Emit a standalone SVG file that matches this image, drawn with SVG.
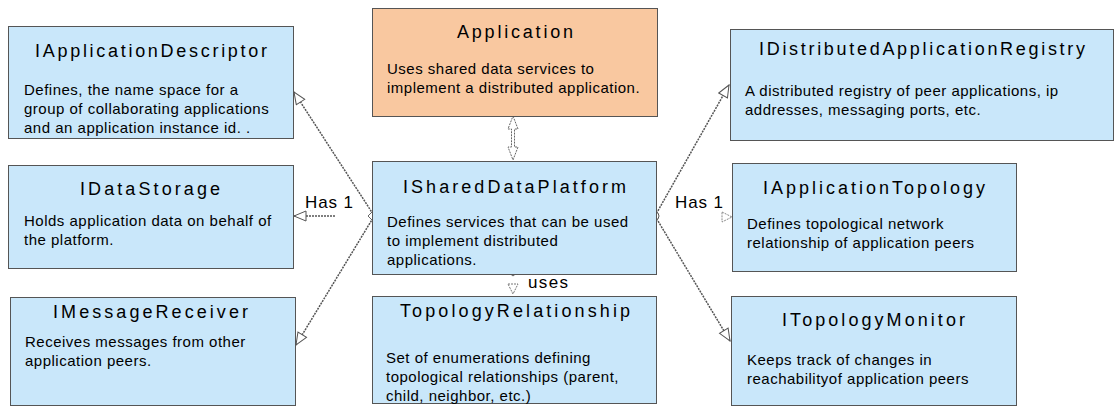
<svg xmlns="http://www.w3.org/2000/svg" width="1120" height="413" viewBox="0 0 1120 413">
<defs>
<style>
.box{fill:#C9E7FA;stroke:#555;stroke-width:1}
.app{fill:#F9C8A0}
.title{font-family:"Liberation Sans",Arial,sans-serif;font-size:18px;text-anchor:middle;fill:#000}
.body{font-family:"Liberation Sans",Arial,sans-serif;font-size:15px;letter-spacing:0.5px;fill:#000}
.lbl{font-family:"Liberation Sans",Arial,sans-serif;font-size:17px;fill:#000}
.conn{stroke:#555;stroke-width:1.5;stroke-dasharray:2 1;fill:none}
.head{fill:#fff;stroke:#666;stroke-width:1}
</style>
<marker id="open" viewBox="0 0 14 12" refX="13" refY="6" markerWidth="14" markerHeight="12" markerUnits="userSpaceOnUse" orient="auto">
<path d="M1,1 L13,6 L1,11 Z" fill="#fff" stroke="#555" stroke-width="1"/>
</marker>
</defs>
<rect width="1120" height="413" fill="#fff"/>

<g id="connectors">
<line class="conn" x1="373" y1="214" x2="294" y2="92" marker-end="url(#open)"/>
<line class="conn" x1="373" y1="218" x2="296" y2="345" marker-end="url(#open)"/>
<line class="conn" x1="335" y1="216" x2="294" y2="216" marker-end="url(#open)"/>
<path class="head" d="M368,216 L373,211 L378,216 L373,221 Z"/>
<text class="lbl" x="305" y="208" textLength="48" lengthAdjust="spacing">Has 1</text>

<line class="conn" x1="655" y1="216" x2="729" y2="85" marker-end="url(#open)"/>
<line class="conn" x1="655" y1="216" x2="730" y2="341" marker-end="url(#open)"/>
<circle cx="655" cy="216" r="4" fill="#fff" stroke="#555" stroke-width="1"/>
<path d="M722,212 L732,217 L722,222 Z" fill="#fff" stroke="#888" stroke-width="1" stroke-dasharray="2 1"/>
<text class="lbl" x="675" y="208" textLength="48" lengthAdjust="spacing">Has 1</text>

<path class="head" stroke-dasharray="2 1" d="M513,116 L518,129 L514.5,129 L514.5,147 L518,147 L513,160 L508,147 L511.5,147 L511.5,129 L508,129 Z"/>

<path class="head" d="M508,272 L513,268 L518,272 L513,276 Z"/>
<path d="M508,284 L518,284 L513,294 Z" fill="#fff" stroke="#777" stroke-width="1" stroke-dasharray="2 1"/>
<text class="lbl" x="528" y="288" textLength="40" lengthAdjust="spacing">uses</text>
</g>

<g id="IApplicationDescriptor">
<rect class="box" x="8.5" y="26.5" width="285" height="112"/>
<text class="title" x="151" y="57" textLength="232" lengthAdjust="spacing">IApplicationDescriptor</text>
<text class="body" x="24" y="95">Defines, the name space for a</text>
<text class="body" x="24" y="114">group of collaborating applications</text>
<text class="body" x="24" y="133">and an application instance id. .</text>
</g>

<g id="Application">
<rect class="box app" x="372.5" y="8.5" width="285" height="108"/>
<text class="title" x="515" y="38" textLength="116" lengthAdjust="spacing">Application</text>
<text class="body" x="387" y="74">Uses shared data services to</text>
<text class="body" x="387" y="93">implement a distributed application.</text>
</g>

<g id="IDistributedApplicationRegistry">
<rect class="box" x="730.5" y="29.5" width="383" height="111"/>
<text class="title" x="922" y="55" textLength="326" lengthAdjust="spacing">IDistributedApplicationRegistry</text>
<text class="body" x="745" y="96">A distributed registry of peer applications, ip</text>
<text class="body" x="745" y="115">addresses, messaging ports, etc.</text>
</g>

<g id="IDataStorage">
<rect class="box" x="8.5" y="165.5" width="285" height="103"/>
<text class="title" x="150" y="195" textLength="140" lengthAdjust="spacing">IDataStorage</text>
<text class="body" x="24" y="226">Holds application data on behalf of</text>
<text class="body" x="24" y="245">the platform.</text>
</g>

<g id="ISharedDataPlatform">
<rect class="box" x="372.5" y="161.5" width="284" height="113"/>
<text class="title" x="514.5" y="193" textLength="223" lengthAdjust="spacing">ISharedDataPlatform</text>
<text class="body" x="387" y="227">Defines services that can be used</text>
<text class="body" x="387" y="246">to implement distributed</text>
<text class="body" x="387" y="265">applications.</text>
</g>

<g id="IApplicationTopology">
<rect class="box" x="732.5" y="163.5" width="284" height="108"/>
<text class="title" x="874" y="194" textLength="222" lengthAdjust="spacing">IApplicationTopology</text>
<text class="body" x="747" y="229">Defines topological network</text>
<text class="body" x="747" y="248">relationship of application peers</text>
</g>

<g id="IMessageReceiver">
<rect class="box" x="10.5" y="297.5" width="285" height="108"/>
<text class="title" x="150.5" y="318" textLength="195" lengthAdjust="spacing">IMessageReceiver</text>
<text class="body" x="25" y="347">Receives messages from other</text>
<text class="body" x="25" y="366">application peers.</text>
</g>

<g id="TopologyRelationship">
<rect class="box" x="372.5" y="296.5" width="284" height="107"/>
<text class="title" x="515" y="317" textLength="230" lengthAdjust="spacing">TopologyRelationship</text>
<text class="body" x="386" y="363">Set of enumerations defining</text>
<text class="body" x="386" y="382">topological relationships (parent,</text>
<text class="body" x="386" y="401">child, neighbor, etc.)</text>
</g>

<g id="ITopologyMonitor">
<rect class="box" x="731.5" y="296.5" width="285" height="109"/>
<text class="title" x="873.5" y="326" textLength="183" lengthAdjust="spacing">ITopologyMonitor</text>
<text class="body" x="747" y="365">Keeps track of changes in</text>
<text class="body" x="747" y="384">reachabilityof application peers</text>
</g>
</svg>
